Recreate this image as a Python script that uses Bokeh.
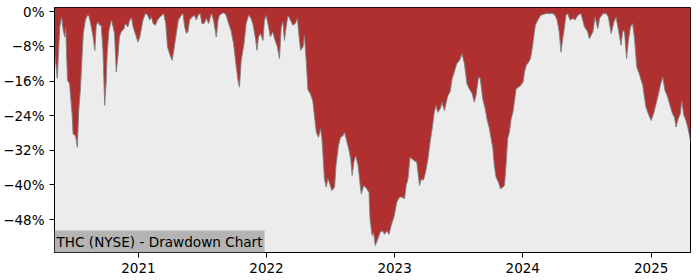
import pandas as pd
from bokeh.plotting import figure
from bokeh.models import Range1d, FixedTicker, CustomJSTickFormatter, Label, ColumnDataSource
from bokeh.embed import file_html
from bokeh.resources import INLINE

# ---- data ----
dates = [
    "2020-05-07", "2020-05-15", "2020-05-22", "2020-05-27", "2020-06-01", "2020-06-05", "2020-06-08",
    "2020-06-13", "2020-06-19", "2020-06-26", "2020-06-29", "2020-07-06", "2020-07-11", "2020-07-15",
    "2020-07-20", "2020-07-23", "2020-07-28", "2020-08-03", "2020-08-09", "2020-08-13", "2020-08-18",
    "2020-08-25", "2020-08-30", "2020-09-03", "2020-09-08", "2020-09-12", "2020-09-17", "2020-09-22",
    "2020-09-27", "2020-10-01", "2020-10-04", "2020-10-09", "2020-10-16", "2020-10-21", "2020-10-25",
    "2020-10-30", "2020-11-04", "2020-11-08", "2020-11-13", "2020-11-21", "2020-11-25", "2020-12-02",
    "2020-12-07", "2020-12-12", "2020-12-17", "2020-12-23", "2020-12-31",
    "2021-01-05", "2021-01-14", "2021-01-21", "2021-01-27", "2021-02-02", "2021-02-07", "2021-02-12",
    "2021-02-18", "2021-02-24", "2021-03-03", "2021-03-09", "2021-03-14", "2021-03-20", "2021-03-25",
    "2021-03-31", "2021-04-07", "2021-04-12", "2021-04-19", "2021-04-25", "2021-05-03", "2021-05-08",
    "2021-05-13", "2021-05-18", "2021-05-22", "2021-05-27", "2021-06-03", "2021-06-10", "2021-06-15",
    "2021-06-20", "2021-06-26", "2021-07-01", "2021-07-07", "2021-07-14", "2021-07-20", "2021-07-28",
    "2021-08-03", "2021-08-11", "2021-08-16", "2021-08-20", "2021-08-27", "2021-09-02", "2021-09-08",
    "2021-09-15", "2021-09-22", "2021-09-29", "2021-10-07", "2021-10-13", "2021-10-16", "2021-10-21",
    "2021-10-29", "2021-11-04", "2021-11-11", "2021-11-16", "2021-11-23", "2021-11-30", "2021-12-05",
    "2021-12-09", "2021-12-15", "2021-12-22", "2021-12-26", "2021-12-31",
    "2022-01-07", "2022-01-12", "2022-01-19", "2022-01-24", "2022-02-01", "2022-02-07", "2022-02-12",
    "2022-02-17", "2022-02-21", "2022-02-26", "2022-03-03", "2022-03-10", "2022-03-17", "2022-03-24",
    "2022-03-30", "2022-04-03", "2022-04-08", "2022-04-15", "2022-04-19", "2022-04-24", "2022-04-29",
    "2022-05-06", "2022-05-13", "2022-05-18", "2022-05-23", "2022-05-29", "2022-06-04", "2022-06-08",
    "2022-06-15", "2022-06-20", "2022-06-25", "2022-06-29", "2022-07-06", "2022-07-14", "2022-07-18",
    "2022-07-25", "2022-07-31", "2022-08-07", "2022-08-11", "2022-08-16", "2022-08-23", "2022-08-29",
    "2022-09-02", "2022-09-07", "2022-09-12", "2022-09-19", "2022-09-23", "2022-09-28", "2022-10-05",
    "2022-10-12", "2022-10-20", "2022-10-23", "2022-10-29", "2022-11-02", "2022-11-07", "2022-11-14",
    "2022-11-21", "2022-11-28", "2022-12-03", "2022-12-10", "2022-12-16", "2022-12-22", "2022-12-31",
    "2023-01-07", "2023-01-15", "2023-01-22", "2023-01-29", "2023-02-03", "2023-02-08", "2023-02-14",
    "2023-02-20", "2023-02-26", "2023-03-05", "2023-03-13", "2023-03-18", "2023-03-24", "2023-03-30",
    "2023-04-06", "2023-04-12", "2023-04-18", "2023-04-24", "2023-04-29", "2023-05-04", "2023-05-11",
    "2023-05-16", "2023-05-23", "2023-05-28", "2023-06-02", "2023-06-08", "2023-06-14", "2023-06-20",
    "2023-06-27", "2023-07-05", "2023-07-12", "2023-07-19", "2023-07-26", "2023-08-02", "2023-08-10",
    "2023-08-16", "2023-08-21", "2023-08-28", "2023-09-02", "2023-09-09", "2023-09-16", "2023-09-21",
    "2023-09-28", "2023-10-03", "2023-10-08", "2023-10-12", "2023-10-17", "2023-10-24", "2023-10-30",
    "2023-11-05", "2023-11-10", "2023-11-15", "2023-11-19", "2023-11-24", "2023-11-29", "2023-12-04",
    "2023-12-08", "2023-12-13", "2023-12-20", "2023-12-26",
    "2024-01-02", "2024-01-06", "2024-01-11", "2024-01-18", "2024-01-23", "2024-01-28", "2024-02-02",
    "2024-02-06", "2024-02-13", "2024-02-21", "2024-02-28", "2024-03-08", "2024-03-17", "2024-03-27",
    "2024-04-02", "2024-04-08", "2024-04-14", "2024-04-19", "2024-04-24", "2024-04-29", "2024-05-03",
    "2024-05-08", "2024-05-15", "2024-05-23", "2024-05-29", "2024-06-06", "2024-06-15", "2024-06-25",
    "2024-07-04", "2024-07-09", "2024-07-19", "2024-07-25", "2024-08-02", "2024-08-07", "2024-08-17",
    "2024-08-26", "2024-09-01", "2024-09-09", "2024-09-17", "2024-09-23", "2024-09-30", "2024-10-07",
    "2024-10-12", "2024-10-17", "2024-10-23", "2024-10-28", "2024-11-03", "2024-11-09", "2024-11-14",
    "2024-11-21", "2024-11-28", "2024-12-08", "2024-12-17", "2024-12-24",
    "2025-01-01", "2025-01-09", "2025-01-15", "2025-01-22", "2025-01-28", "2025-02-03", "2025-02-09",
    "2025-02-17", "2025-02-25", "2025-03-03", "2025-03-08", "2025-03-13", "2025-03-19", "2025-03-25",
    "2025-03-29", "2025-04-04", "2025-04-10", "2025-04-15", "2025-04-21", "2025-04-23",
]
drawdown = [
    -9.0, -15.4, -3.5, -1.2, -4.3, -5.8, -3.8,
    -15.8, -16.6, -23.5, -28.2, -28.6, -31.3, -22.8,
    -17.7, -12.8, -5.0, -1.9, -0.8, -0.9, -2.7,
    -5.8, -8.9, -3.1, -2.3, -3.1, -3.1, -8.9,
    -21.6, -16.6, -9.7, -4.3, -1.9, -3.5, -5.0,
    -13.9, -10.0, -5.8, -4.6, -3.9, -2.7, -3.5,
    -2.0, -1.2, -3.5, -5.0, -7.0,
    -5.8, -1.9, -0.4, -0.7, -1.9, -1.2, -2.7,
    -3.1, -2.0, -1.2, -0.8, -0.4, -2.7, -8.1,
    -9.7, -11.2, -8.9, -5.0, -1.9, -0.8, -0.4,
    -3.5, -5.0, -4.6, -1.9, -1.2, -0.8, -1.9,
    -0.8, -0.4, -2.7, -2.7, -1.5, -2.7, -0.4,
    -1.9, -5.8, -1.9, -0.8, -0.4, -0.2, -0.8,
    -2.7, -4.3, -7.3, -12.8, -16.5, -17.4, -11.2,
    -7.3, -2.7, -0.8, -1.2, -2.7, -5.8, -8.9,
    -5.8, -5.0, -6.6, -1.9, -0.8,
    -3.5, -5.8, -4.6, -6.2, -8.1, -10.8, -3.5,
    -2.3, -6.6, -3.5, -0.8, -1.9, -3.1, -2.7,
    -1.5, -5.0, -8.9, -8.1, -5.4, -11.2, -18.0,
    -18.9, -20.6, -24.3, -27.8, -29.0, -27.0, -29.3,
    -38.5, -40.5, -38.5, -39.4, -41.3, -40.5, -35.5,
    -30.9, -29.0, -28.6, -27.8, -29.3, -31.6, -34.0,
    -37.8, -34.7, -33.2, -35.5, -38.6, -42.1, -40.1,
    -40.7, -41.7, -47.9, -51.7, -51.0, -54.0, -52.5,
    -50.9, -50.6, -51.4, -50.6, -51.4, -49.4, -47.1,
    -44.0, -42.8, -42.8, -43.2, -40.1, -38.6, -33.6,
    -34.0, -34.4, -34.7, -40.1, -38.6, -38.9, -37.1,
    -34.0, -30.1, -27.0, -23.2, -21.6, -23.2, -22.4,
    -20.9, -22.8, -20.9, -19.3, -18.5, -15.4, -13.9,
    -12.0, -11.2, -9.7, -12.0, -16.6, -17.8, -18.9,
    -20.9, -19.3, -15.1, -15.4, -20.1, -22.4, -24.7,
    -27.0, -29.3, -31.6, -35.5, -38.2, -39.4, -40.9,
    -40.5, -40.1, -34.7, -29.3, -27.8, -24.7, -23.2,
    -20.9, -17.8, -17.4, -17.0,
    -16.2, -13.9, -12.4, -11.6, -10.8, -8.5, -5.4,
    -3.1, -1.9, -0.8, -0.6, -0.4, -0.4, -0.4,
    -0.8, -1.9, -4.6, -9.3, -6.2, -3.5, -0.8,
    -0.4, -1.9, -1.5, -1.9, -0.8, -0.4, -3.5,
    -4.6, -6.2, -4.6, -1.2, -3.9, -1.5, -0.4,
    -0.4, -1.2, -5.0, -2.3, -1.2, -4.3, -7.7,
    -4.3, -4.6, -10.8, -6.6, -3.5, -2.7, -5.8,
    -12.8, -14.3, -17.0, -22.0, -23.6,
    -25.1, -23.2, -21.2, -18.9, -16.6, -15.1, -18.1,
    -19.7, -22.0, -23.6, -24.3, -26.6, -24.7, -23.6,
    -20.5, -23.9, -25.1, -26.6, -29.0, -30.1,
]
year_ticks = ["2021", "2022", "2023", "2024", "2025"]
y_ticks = [0, -8, -16, -24, -32, -40, -48]
y_min, y_max = -55.6, 1.0
title = "THC (NYSE) - Drawdown Chart"

# ---- build ----
x = pd.to_datetime(dates)
src = ColumnDataSource(dict(x=x, dd=drawdown, top=[y_max] * len(drawdown)))

p = figure(width=700, height=280, x_axis_type="datetime", output_backend="svg",
           toolbar_location=None,
           x_range=Range1d(x[0], x[-1]), y_range=Range1d(y_min, y_max),
           min_border_left=53, min_border_right=10, min_border_top=7, min_border_bottom=28)
p.background_fill_color = "#ececec"
p.border_fill_color = "white"
p.outline_line_color = "black"
p.outline_line_width = 1
p.xgrid.visible = False
p.ygrid.visible = False

p.varea(x="x", y1="dd", y2="top", source=src, fill_color="#b03030")
p.line(x="x", y="dd", source=src, line_color="#808080", line_width=1, line_alpha=0.9)

year_ms = [pd.Timestamp(y + "-01-01").value // 10**6 for y in year_ticks]
p.xaxis.ticker = FixedTicker(ticks=year_ms)
p.xaxis.formatter = CustomJSTickFormatter(code="return String(new Date(tick).getUTCFullYear());")
p.yaxis.ticker = FixedTicker(ticks=y_ticks)
p.yaxis.formatter = CustomJSTickFormatter(
    code="return (tick < 0 ? '\u2212' : '') + Math.abs(tick).toFixed(0) + '%';")

for ax in (p.xaxis[0], p.yaxis[0]):
    ax.major_label_text_font = "DejaVu Sans"
    ax.major_label_text_font_size = "13.5px"
    ax.major_label_text_color = "black"
    ax.axis_line_color = "black"
    ax.major_tick_line_color = "black"
    ax.major_tick_out = 5
    ax.major_tick_in = 0
    ax.minor_tick_line_color = None
    ax.major_label_standoff = 5

lab = Label(x=0, y=0, x_units="screen", y_units="screen", text=title,
            text_font="DejaVu Sans", text_font_size="13.6px", text_color="black",
            background_fill_color="#b4b4b4", padding=(2, 3))
p.add_layout(lab)

open("out.html", "w").write(file_html(p, INLINE))
